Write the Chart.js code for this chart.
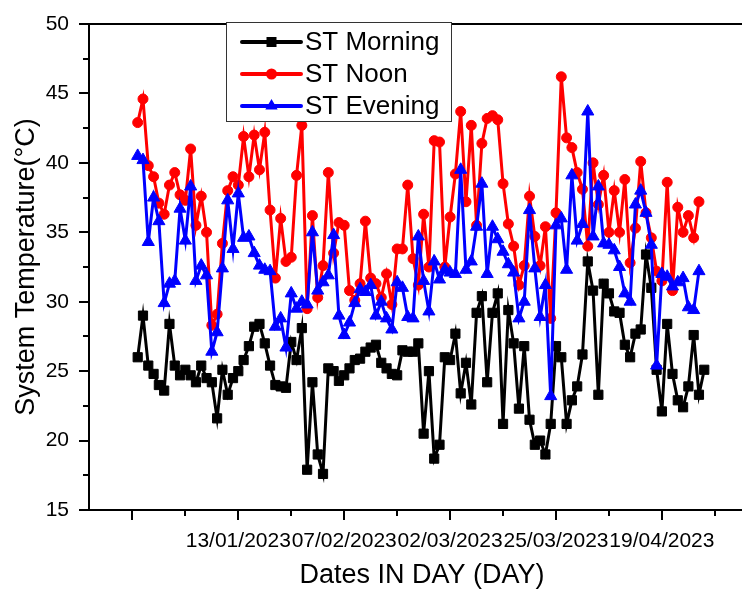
<!DOCTYPE html>
<html>
<head>
<meta charset="utf-8">
<script src="https://cdn.jsdelivr.net/npm/chart.js@4/dist/chart.umd.min.js"></script>
<style>
  html, body { margin: 0; padding: 0; background: #fff; }
  #wrap { width: 742px; height: 590px; position: relative; }
</style>
</head>
<body>
<div id="wrap"><canvas id="c" width="742" height="590"></canvas></div>
<script>
// Daily system temperature readings, one value per recorded day (row 1..N)
const seriesNames = ['ST Morning', 'ST Noon', 'ST Evening'];

const stMorning = [
  26.0, 29.0, 25.4, 24.8, 24.0, 23.6, 28.4, 25.4, 24.7, 25.1,
  24.7, 24.2, 25.4, 24.5, 24.2, 21.6, 25.1, 23.3, 24.5, 25.0,
  25.8, 26.8, 28.2, 28.4, 27.0, 25.4, 24.0, 23.9, 23.8, 27.1,
  25.8, 28.1, 17.9, 24.2, 19.0, 17.6, 25.2, 25.0, 24.3, 24.7,
  25.2, 25.8, 25.9, 26.4, 26.7, 26.9, 25.6, 25.2, 24.8, 24.7,
  26.5, 26.4, 26.4, 27.0, 20.5, 25.0, 18.7, 19.7, 26.0, 25.8,
  27.7, 23.4, 25.6, 22.6, 29.2, 30.4, 24.2, 29.2, 30.6, 21.2,
  29.4, 27.0, 22.3, 26.8, 21.5, 19.7, 20.0, 19.0, 21.2, 26.8,
  26.0, 21.2, 22.9, 23.9, 26.2, 32.9, 30.8, 23.3, 31.3, 30.6,
  29.3, 29.2, 26.9, 26.0, 27.7, 28.0, 33.4, 31.0, 25.1, 22.1,
  28.4, 24.8, 22.9, 22.4, 23.9, 27.6, 23.3, 25.1
];

const stNoon = [
  42.9, 44.6, 39.8, 39.0, 37.1, 36.3, 38.4, 39.3, 37.7, 37.3,
  41.0, 35.5, 37.6, 35.0, 28.3, 29.1, 34.2, 38.0, 39.0, 38.4,
  41.9, 39.0, 42.0, 39.5, 42.2, 36.6, 31.7, 36.0, 32.9, 33.2,
  39.1, 42.7, 29.5, 36.2, 30.3, 32.6, 39.3, 33.5, 35.7, 35.5,
  30.8, 30.1, 31.3, 35.8, 31.7, 31.3, 30.3, 32.0, 29.8, 33.8,
  33.8, 38.4, 33.1, 31.2, 36.3, 32.5, 41.6, 41.5, 32.5, 36.1,
  39.2, 43.7, 37.2, 42.7, 35.5, 41.4, 43.2, 43.4, 43.1, 38.5,
  35.6, 34.0, 31.2, 32.6, 37.6, 34.7, 32.6, 35.4, 28.8, 36.4,
  46.2, 41.8, 41.1, 39.3, 38.1, 34.0, 40.0, 37.0, 39.1, 35.0,
  38.0, 35.0, 38.8, 32.8, 35.3, 40.1, 36.4, 34.6, 32.2, 31.5,
  38.6, 30.8, 36.8, 35.0, 36.2, 34.6, 37.2
];

const stEvening = [
  40.5, 40.2, 34.3, 37.5, 35.8, 29.9, 31.3, 31.5, 36.7, 34.4,
  38.3, 31.5, 32.6, 31.9, 26.4, 27.8, 32.4, 37.3, 33.8, 37.8,
  34.6, 34.7, 33.5, 32.6, 32.3, 32.2, 28.2, 28.8, 26.7, 30.6,
  29.5, 30.0, 29.8, 35.0, 30.8, 31.4, 31.9, 34.8, 29.0, 27.6,
  28.5, 29.9, 30.9, 30.7, 31.2, 29.0, 30.0, 28.8, 28.0, 31.4,
  31.0, 28.9, 28.8, 34.7, 31.5, 29.3, 32.9, 31.6, 32.3, 32.1,
  32.0, 39.5, 32.3, 32.9, 35.4, 38.5, 32.0, 35.4, 34.5, 33.6,
  32.7, 32.1, 28.8, 30.0, 36.6, 32.4, 28.9, 31.2, 23.2, 35.5,
  36.0, 32.3, 39.1, 34.4, 35.6, 43.7, 34.7, 38.3, 34.2, 34.1,
  33.7, 32.5, 30.6, 30.0, 37.0, 38.0, 36.4, 34.1, 25.4, 32.0,
  31.8, 31.1, 31.4, 31.7, 29.6, 29.4, 32.2
];

// Labelled day rows on the date axis
const dateTickDays = [20, 40, 60, 80, 100];
const dateTickLabels = ['13/01/2023', '07/02/2023', '02/03/2023', '25/03/2023', '19/04/2023'];
const tempTicks = [15, 20, 25, 30, 35, 40, 45, 50];
const xAxisTitle = 'Dates IN DAY (DAY)';
const yAxisTitle = 'System Temperature(°C)';

const FONT = 'Arial, "Liberation Sans", sans-serif';

// horizontal placement of the day rows: where row 0 sits and the width of one row
const ROW0_PX = 132.4;
const ROW_PX = 5.295;

// pair each reading with its row number
const toPoints = arr => arr.map((v, i) => ({ x: i + 1, y: v }));

const colors = { morning: '#000000', noon: '#ff0000', evening: '#0000ff' };

// Keep the row spacing fixed whatever width the plot area ends up with
const rowSpacingPlugin = {
  id: 'rowSpacing',
  afterLayout(chart) {
    const x = chart.scales.x;
    const a = chart.chartArea;
    x.min = (a.left - ROW0_PX) / ROW_PX;
    x.max = (a.right - ROW0_PX) / ROW_PX;
    x.configure();
  }
};

// Frame, outward tick marks, x title and the boxed legend
const framePlugin = {
  id: 'frame',
  afterDraw(chart) {
    const { ctx, chartArea: a, scales: { x, y } } = chart;
    ctx.save();
    ctx.strokeStyle = '#000';
    ctx.lineWidth = 2;
    ctx.beginPath();
    ctx.moveTo(a.left, a.top);
    ctx.lineTo(chart.width, a.top);
    ctx.moveTo(a.right - 1, a.bottom);
    ctx.lineTo(chart.width, a.bottom);
    for (let v = 0; v <= 120; v += 10) {
      const px = Math.round(x.getPixelForValue(v));
      if (px > chart.width) break;
      const len = (v % 20 === 0) ? 10 : 6;
      ctx.moveTo(px, a.bottom);
      ctx.lineTo(px, a.bottom + len);
    }
    for (let v = y.min; v <= y.max + 0.01; v += 2.5) {
      const py = Math.round(y.getPixelForValue(v));
      const len = (v % 5 === 0) ? 10 : 6;
      ctx.moveTo(a.left, py);
      ctx.lineTo(a.left - len, py);
    }
    ctx.stroke();

    // x axis title, centred under the full axis run
    ctx.fillStyle = '#000';
    ctx.font = '27px ' + FONT;
    ctx.textAlign = 'center';
    ctx.textBaseline = 'middle';
    ctx.fillText(xAxisTitle, 422, 576);

    // legend
    const box = { x: 226.5, y: 22.5, w: 225, h: 99 };
    ctx.fillStyle = '#fff';
    ctx.fillRect(box.x, box.y, box.w, box.h);
    ctx.lineWidth = 1;
    ctx.strokeStyle = '#333';
    ctx.strokeRect(box.x, box.y, box.w, box.h);

    const rows = [
      { text: seriesNames[0], color: colors.morning, shape: 'rect', y: 42 },
      { text: seriesNames[1], color: colors.noon, shape: 'circle', y: 74 },
      { text: seriesNames[2], color: colors.evening, shape: 'triangle', y: 106 }
    ];
    rows.forEach(r => {
      ctx.strokeStyle = r.color;
      ctx.fillStyle = r.color;
      ctx.lineWidth = 4;
      ctx.lineCap = 'round';
      ctx.beginPath();
      ctx.moveTo(242, r.y);
      ctx.lineTo(301, r.y);
      ctx.stroke();
      const cx = 271.5;
      ctx.beginPath();
      if (r.shape === 'rect') {
        ctx.rect(cx - 5, r.y - 5, 10, 10);
      } else if (r.shape === 'circle') {
        ctx.arc(cx, r.y, 5.5, 0, Math.PI * 2);
      } else {
        ctx.moveTo(cx, r.y - 7);
        ctx.lineTo(cx + 6.2, r.y + 3.6);
        ctx.lineTo(cx - 6.2, r.y + 3.6);
        ctx.closePath();
      }
      ctx.fill();
      ctx.fillStyle = '#000';
      ctx.font = '26px ' + FONT;
      ctx.textAlign = 'left';
      ctx.textBaseline = 'middle';
      ctx.fillText(r.text, 305, r.y + 1);
    });
    ctx.restore();
  }
};

const lineSet = (label, data, color, style, radius, order) => ({
  label,
  data: toPoints(data),
  borderColor: color,
  backgroundColor: color,
  borderWidth: 3,
  pointStyle: style,
  pointRadius: radius,
  pointBorderWidth: 1,
  pointBackgroundColor: color,
  pointBorderColor: color,
  tension: 0,
  order
});

new Chart(document.getElementById('c'), {
  type: 'line',
  data: {
    datasets: [
      lineSet(seriesNames[0], stMorning, colors.morning, 'rect', 6.5, 2),
      lineSet(seriesNames[1], stNoon, colors.noon, 'circle', 5, 1),
      lineSet(seriesNames[2], stEvening, colors.evening, 'triangle', 7, 0)
    ]
  },
  options: {
    responsive: false,
    animation: false,
    devicePixelRatio: 1,
    layout: { padding: { top: 24, right: 0, bottom: 0, left: 0 } },
    plugins: { legend: { display: false }, tooltip: { enabled: false } },
    scales: {
      x: {
        type: 'linear',
        min: -8.2,
        max: 115,
        afterBuildTicks: s => { s.ticks = [0].concat(dateTickDays).map(v => ({ value: v })); },
        afterFit: s => { s.height = 80; s.paddingLeft = 0; s.paddingRight = 0; },
        grid: { display: false, drawTicks: false, tickLength: 0 },
        border: { display: true, color: '#000', width: 2 },
        ticks: {
          autoSkip: false,
          maxRotation: 0,
          minRotation: 0,
          padding: 19,
          color: '#000',
          font: { family: FONT, size: 21 },
          callback: v => {
            const k = dateTickDays.indexOf(v);
            return k >= 0 ? dateTickLabels[k] : '';
          }
        },
        title: { display: false }
      },
      y: {
        type: 'linear',
        min: 15,
        max: 50,
        afterBuildTicks: s => { s.ticks = tempTicks.map(v => ({ value: v })); },
        afterFit: s => { s.width = 89; s.paddingTop = 0; s.paddingBottom = 0; },
        grid: { display: false, drawTicks: false, tickLength: 0 },
        border: { display: true, color: '#000', width: 2 },
        ticks: {
          padding: 20,
          color: '#000',
          font: { family: FONT, size: 21 }
        },
        title: {
          display: true,
          text: yAxisTitle,
          color: '#000',
          font: { family: FONT, size: 27 },
          padding: { top: 10, bottom: 0 }
        }
      }
    }
  },
  plugins: [rowSpacingPlugin, framePlugin]
});
</script>
</body>
</html>
